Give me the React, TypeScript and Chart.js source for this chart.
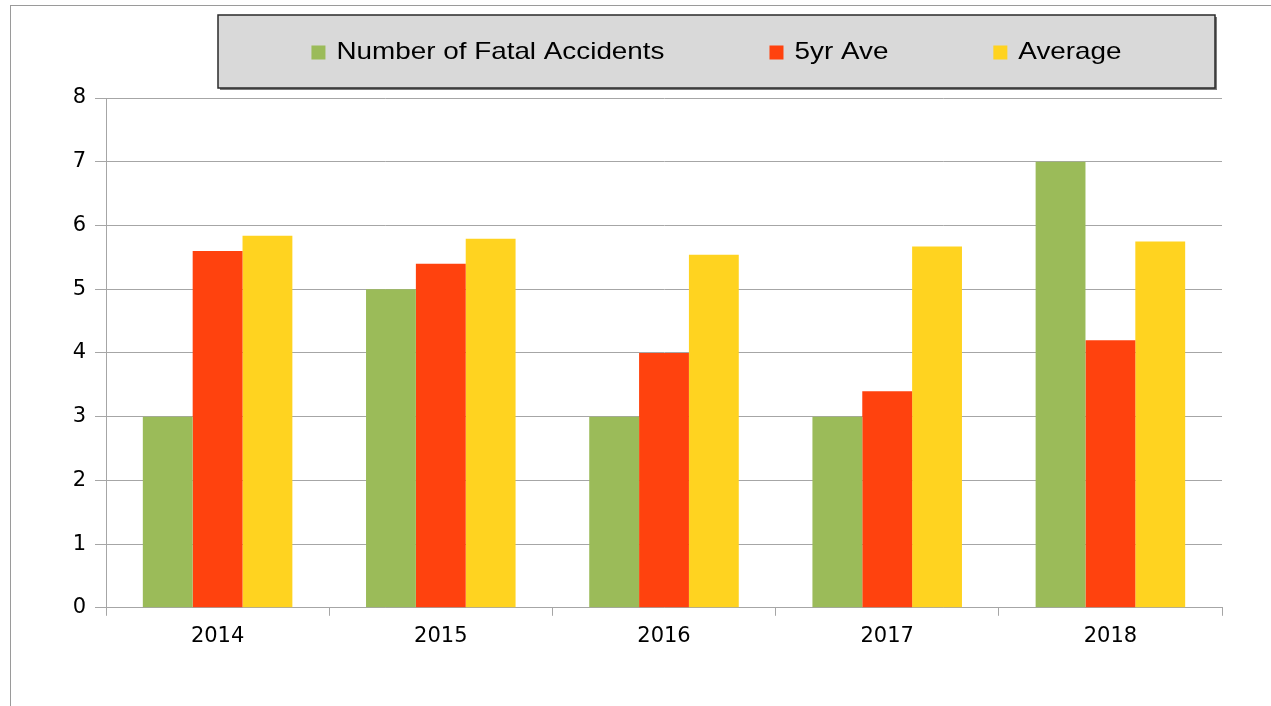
import React, { useEffect, useRef } from 'react';
import { Chart, registerables } from 'chart.js';

Chart.register(...registerables);

const categories = ['2014', '2015', '2016', '2017', '2018'];
const fatalAccidents = [3, 5, 3, 3, 7];
const fiveYearAve = [5.6, 5.4, 4.0, 3.4, 4.2];
const average = [5.84, 5.79, 5.54, 5.67, 5.75];
const seriesLabels = ['Number of Fatal Accidents', '5yr Ave', 'Average'];
const seriesColors = ['#9bbb59', '#ff420e', '#ffd320'];
const yMin = 0;
const yMax = 8;
const yStep = 1;

const FONT = '"Liberation Sans", Arial, sans-serif';
const TEXT_STRETCH = 1.16;

const legendBoxPlugin = {
  id: 'legendBox',
  afterDraw(chart: any) {
    const ctx = chart.ctx as CanvasRenderingContext2D;
    const bx = 218, by = 15, bw = 997, bh = 73;
    ctx.save();
    ctx.fillStyle = '#7a7a7a';
    ctx.fillRect(bx + 2, by + 2, bw, bh);
    ctx.fillStyle = '#d9d9d9';
    ctx.fillRect(bx, by, bw, bh);
    ctx.strokeStyle = '#2a2a2a';
    ctx.lineWidth = 1.5;
    ctx.strokeRect(bx, by, bw, bh);

    ctx.font = `24px ${FONT}`;
    ctx.textBaseline = 'middle';
    ctx.textAlign = 'left';
    const boxSize = 14;
    const gapBoxText = 11;
    const itemGap = 105;
    const datasets = chart.data.datasets;
    const widths = datasets.map((d: any) => ctx.measureText(d.label).width * TEXT_STRETCH);
    const total =
      widths.reduce((a: number, w: number) => a + boxSize + gapBoxText + w, 0) +
      itemGap * (datasets.length - 1);
    let x = bx + bw / 2 - total / 2;
    const cy = by + bh / 2 + 1;
    datasets.forEach((d: any, i: number) => {
      ctx.fillStyle = d.backgroundColor;
      ctx.fillRect(x, cy - boxSize / 2, boxSize, boxSize);
      x += boxSize + gapBoxText;
      ctx.save();
      ctx.translate(x, cy);
      ctx.scale(TEXT_STRETCH, 1);
      ctx.fillStyle = '#000';
      ctx.fillText(d.label, 0, 0);
      ctx.restore();
      x += widths[i] + itemGap;
    });
    ctx.restore();
  },
};

export default function App() {
  const canvasRef = useRef<HTMLCanvasElement | null>(null);

  useEffect(() => {
    if (!canvasRef.current) return;
    const seriesData = [fatalAccidents, fiveYearAve, average];
    const chart = new Chart(canvasRef.current, {
      type: 'bar',
      data: {
        labels: categories,
        datasets: seriesData.map((values, i) => ({
          label: seriesLabels[i],
          data: values,
          backgroundColor: seriesColors[i],
          borderWidth: 0,
          categoryPercentage: 0.67,
          barPercentage: 1.0,
        })),
      },
      options: {
        responsive: false,
        animation: false,
        maintainAspectRatio: false,
        layout: { padding: { top: 98, bottom: 49, left: 0, right: 49 } },
        plugins: {
          legend: { display: false },
          tooltip: { enabled: false },
        },
        scales: {
          x: {
            grid: {
              display: true,
              drawOnChartArea: false,
              drawTicks: true,
              tickLength: 8,
              color: '#a6a6a6',
              offset: true,
            },
            border: { display: true, color: '#a6a6a6', width: 1 },
            ticks: {
              color: '#000',
              font: { family: '"DejaVu Sans", sans-serif', size: 21 },
              padding: 8,
            },
          },
          y: {
            min: yMin,
            max: yMax,
            afterFit: (scale: any) => {
              scale.width = 106;
            },
            grid: {
              color: '#a6a6a6',
              lineWidth: 1,
              tickLength: 11,
            },
            border: { display: true, color: '#a6a6a6', width: 1 },
            ticks: {
              stepSize: yStep,
              color: '#000',
              font: { family: '"DejaVu Sans", sans-serif', size: 21 },
              padding: 9,
            },
          },
        },
      },
      plugins: [legendBoxPlugin],
    });
    return () => chart.destroy();
  }, []);

  return (
    <div
      style={{
        position: 'fixed',
        left: 0,
        top: 0,
        width: 1271,
        height: 706,
        overflow: 'hidden',
        background: '#fff',
      }}
    >
      <div
        style={{
          position: 'absolute',
          left: 10,
          top: 5,
          width: 1300,
          height: 800,
          borderLeft: '1px solid #9a9a9a',
          borderTop: '1px solid #9a9a9a',
        }}
      />
      <canvas
        ref={canvasRef}
        width={1271}
        height={706}
        style={{ position: 'absolute', left: 0, top: 0, width: 1271, height: 706 }}
      />
    </div>
  );
}
